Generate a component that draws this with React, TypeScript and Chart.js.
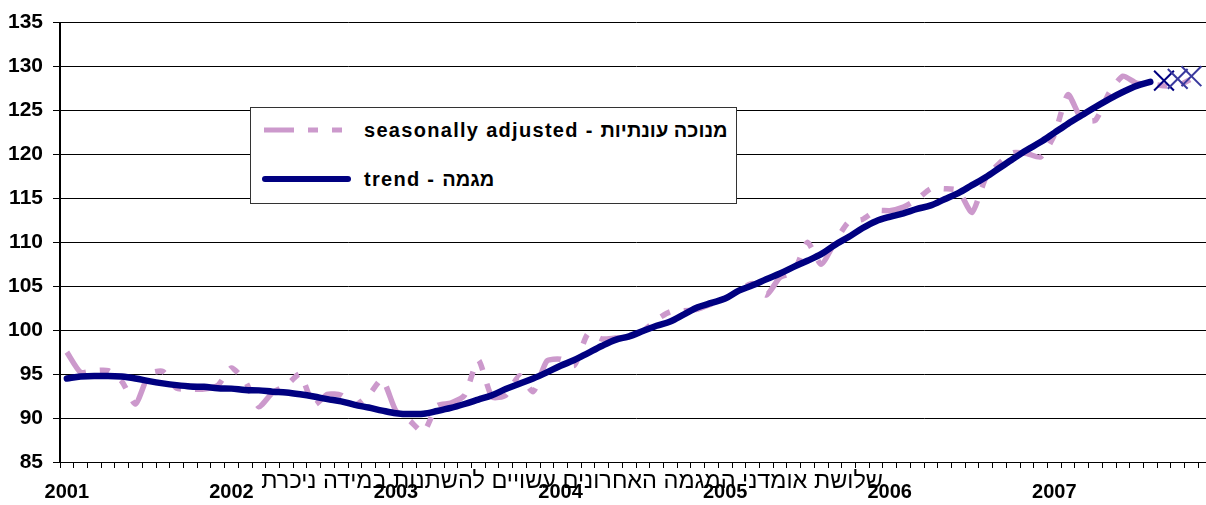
import React, { useEffect, useRef } from 'react';
import { Chart, registerables } from 'chart.js';

Chart.register(...registerables);

// ---- data ----
const years = ['2001', '2002', '2003', '2004', '2005', '2006', '2007'];
const months = ['01', '02', '03', '04', '05', '06', '07', '08', '09', '10', '11', '12'];
const categories = years.flatMap((y) => months.map((m) => `${y}-${m}`));

const seasonalAdjusted = [
  97.5, 95.2, 95.4, 95.4, 94.2, 91.6, 95.0, 95.3, 93.4, 93.3, 93.3, 93.7,
  95.7, 94.2, 91.3, 92.9, 93.7, 95.0, 91.5, 92.7, 92.6, 91.5, 92.6, 94.4,
  90.8, 89.7, 88.4, 91.4, 91.7, 92.6, 96.6, 92.4, 92.6, 94.8, 93.0, 96.5,
  96.7, 96.0, 99.6, 99.0, 99.1, 99.2, 99.9, 101.2, 102.1, 102.2, 102.4, 103.0,
  103.6, 104.5, 105.3, 104.0, 106.0, 106.6, 110.0, 107.5, 110.0, 112.3, 112.6, 113.6,
  113.6, 114.0, 114.9, 116.1, 116.1, 115.9, 113.4, 117.3, 119.0, 120.2, 120.1, 119.7,
  122.2, 126.8, 124.0, 123.9, 127.0, 128.9, 128.1, 128.0, 127.8, 127.8, 128.6,
];

const trend = [
  94.5, 94.72, 94.8, 94.8, 94.72, 94.5, 94.2, 93.95, 93.75, 93.6, 93.55, 93.4,
  93.35, 93.2, 93.15, 93.0, 92.9, 92.7, 92.45, 92.15, 91.9, 91.5, 91.2, 90.85,
  90.55, 90.45, 90.5, 90.8, 91.15, 91.6, 92.1, 92.6, 93.3, 93.9, 94.5, 95.2,
  95.95, 96.6, 97.4, 98.2, 98.9, 99.3, 99.9, 100.5, 101.0, 101.8, 102.6, 103.1,
  103.6, 104.5, 105.1, 105.8, 106.45, 107.2, 107.9, 108.65, 109.7, 110.6, 111.6, 112.4,
  112.9, 113.3, 113.8, 114.2, 114.9, 115.6, 116.5, 117.4, 118.45, 119.5, 120.5, 121.4,
  122.45, 123.5, 124.45, 125.4, 126.3, 127.1, 127.8, 128.25,
];

// last three trend estimates (may change), shown as X markers
const lastTrendEstimates = [128.4, 128.6, 128.9];

const yMin = 85;
const yMax = 135;
const yStep = 5;

const legendSeasonalLatin = 'seasonally adjusted - ';
const legendSeasonalHebrew = 'מנוכה עונתיות';
const legendTrendLatin = 'trend - ';
const legendTrendHebrew = 'מגמה';
const noteText = 'שלושת אומדני המגמה האחרונים עשויים להשתנות במידה ניכרת';

const FONT = "'Liberation Sans', Arial, sans-serif";
const PINK = '#CC99CC';
const NAVY = '#000080';

export default function App() {
  const canvasRef = useRef<HTMLCanvasElement | null>(null);

  useEffect(() => {
    const canvas = canvasRef.current;
    if (!canvas) return;
    const estStart = trend.length;
    const markerData = categories.map((_, i) =>
      i >= estStart && i < estStart + lastTrendEstimates.length ? lastTrendEstimates[i - estStart] : null
    );
    const markerColors = categories.map((_, i) => (i === estStart ? '#000080' : '#3a3a9e'));
    const chart = new Chart(canvas, {
      type: 'line',
      data: {
        labels: categories,
        datasets: [
          {
            label: 'estimates',
            data: markerData,
            showLine: false,
            pointStyle: 'crossRot',
            pointRadius: 14,
            pointBorderWidth: 2,
            pointBorderColor: markerColors,
            pointBackgroundColor: 'rgba(0,0,0,0)',
            clip: false,
            order: 0,
          } as any,
          {
            label: 'trend',
            data: trend,
            borderColor: NAVY,
            borderWidth: 6.5,
            borderCapStyle: 'round',
            borderJoinStyle: 'round',
            pointRadius: 0,
            cubicInterpolationMode: 'monotone',
            fill: false,
            order: 1,
          },
          {
            label: 'seasonally adjusted',
            data: seasonalAdjusted,
            borderColor: PINK,
            borderWidth: 5.5,
            borderDash: [30, 14, 10, 14, 10, 14],
            pointRadius: 0,
            tension: 0.2,
            fill: false,
            order: 2,
          },
        ],
      },
      options: {
        responsive: false,
        animation: false,
        events: [],
        layout: { autoPadding: false, padding: { top: 20, left: 0, right: 0, bottom: 0 } },
        plugins: { legend: { display: false }, tooltip: { enabled: false } },
        scales: {
          x: {
            type: 'category',
            offset: true,
            grid: {
              offset: true,
              drawOnChartArea: false,
              drawTicks: true,
              tickLength: 6,
              color: '#000',
              lineWidth: 1,
            },
            border: { display: true, color: '#000', width: 1 },
            ticks: {
              autoSkip: false,
              maxRotation: 0,
              minRotation: 0,
              padding: 12,
              color: '#000',
              font: { family: FONT, size: 20, weight: 'bold' },
              callback: (_v: any, i: number) => (i % 12 === 0 ? years[i / 12] : ''),
            },
            afterFit: (s: any) => {
              s.height = 43;
              s.paddingLeft = 0;
              s.paddingRight = 0;
            },
          },
          y: {
            min: yMin,
            max: yMax,
            ticks: {
              stepSize: yStep,
              padding: 10,
              color: '#000',
              font: { family: FONT, size: 21, weight: 'bold' },
            },
            grid: { color: '#000', lineWidth: 1, tickLength: 7, drawTicks: true },
            border: { display: true, color: '#000', width: 2 },
            afterFit: (s: any) => {
              s.width = 60;
            },
          },
        },
      } as any,
    });
    return () => chart.destroy();
  }, []);

  const textStyle: React.CSSProperties = {
    position: 'absolute',
    left: 113,
    font: `bold 20px ${FONT}`,
    lineHeight: '24px',
    whiteSpace: 'nowrap',
    color: '#000',
  };

  return (
    <div
      style={{
        position: 'fixed',
        left: 0,
        top: 0,
        width: 1206,
        height: 505,
        overflow: 'hidden',
        background: '#fff',
      }}
    >
      <canvas
        ref={canvasRef}
        width={1212}
        height={505}
        style={{ position: 'absolute', left: 0, top: 0, width: 1212, height: 505 }}
      />
      <div
        style={{
          position: 'absolute',
          left: 250,
          top: 107,
          width: 487,
          height: 97,
          boxSizing: 'border-box',
          border: '1px solid #333',
          background: '#fff',
        }}
      >
        <svg style={{ position: 'absolute', left: 13, top: 17 }} width={82} height={10}>
          <line x1={0} y1={5} x2={80} y2={5} stroke={PINK} strokeWidth={5} strokeDasharray="30 14 10 14 10 14" />
        </svg>
        <div style={{ ...textStyle, top: 10 }}>
          <span style={{ letterSpacing: '1.3px' }}>{legendSeasonalLatin}</span>
          <span>{legendSeasonalHebrew}</span>
        </div>
        <svg style={{ position: 'absolute', left: 10, top: 64 }} width={92} height={14}>
          <line x1={4} y1={7} x2={87} y2={7} stroke={NAVY} strokeWidth={6} strokeLinecap="round" />
        </svg>
        <div style={{ ...textStyle, top: 59 }}>
          <span style={{ letterSpacing: '1.3px' }}>{legendTrendLatin}</span>
          <span>{legendTrendHebrew}</span>
        </div>
      </div>
      <div
        style={{
          position: 'absolute',
          left: 0,
          top: 466,
          width: 883,
          textAlign: 'right',
          direction: 'rtl',
          font: `23.5px ${FONT}`,
          lineHeight: '28px',
          whiteSpace: 'nowrap',
          color: '#000',
        }}
      >
        {noteText}
      </div>
    </div>
  );
}
